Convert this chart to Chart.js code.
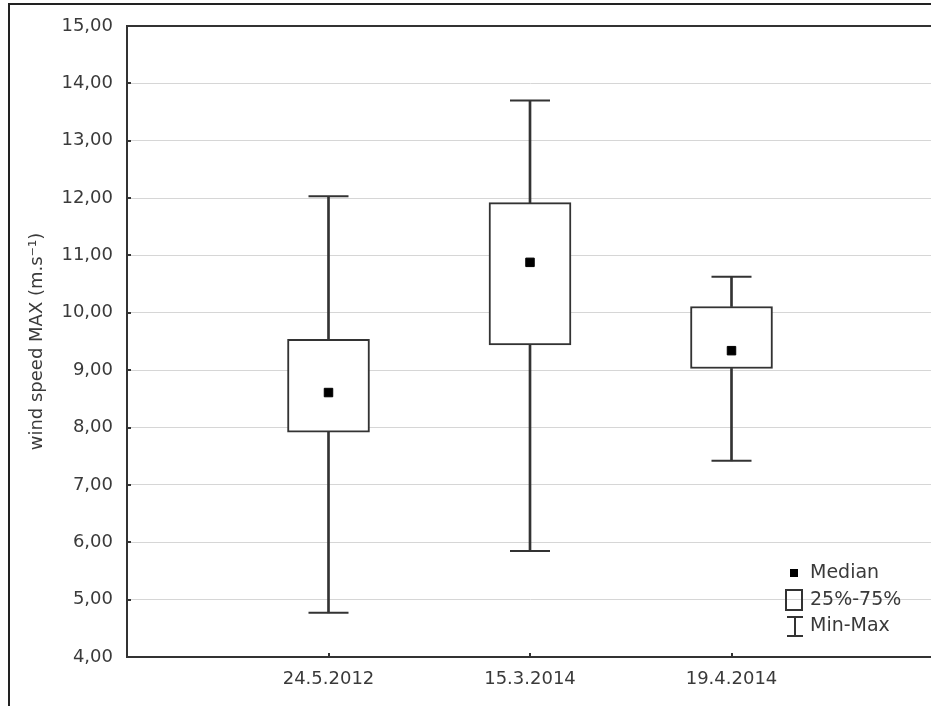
<!DOCTYPE html>
<html><head><meta charset="utf-8">
<script src="https://cdn.jsdelivr.net/npm/chart.js@4"></script>
<style>
html,body{margin:0;padding:0;overflow:hidden;background:#fff;width:931px;height:706px;}
#frame{position:absolute;left:8px;top:3px;width:940px;height:701px;border-left:2px solid #222;border-top:2px solid #222;border-bottom:1px solid #aaa;}
#wrap{position:absolute;left:0;top:0;width:940px;height:706px;}
</style></head><body>
<div id="frame"></div>
<div id="wrap"><canvas id="c" width="940" height="706"></canvas></div>
<script>
const categories = ['24.5.2012', '15.3.2014', '19.4.2014'];
const minValues = [4.77, 5.85, 7.42];
const q1Values = [7.92, 9.44, 9.03];
const medianValues = [8.61, 10.88, 9.34];
const q3Values = [9.54, 11.92, 10.11];
const maxValues = [12.03, 13.70, 10.63];
const yTickLabels = ['4,00','5,00','6,00','7,00','8,00','9,00','10,00','11,00','12,00','13,00','14,00','15,00'];
const legendLabels = ['Median', '25%-75%', 'Min-Max'];

const FONT = 'DejaVu Sans';
const INK = '#333';
const TXT = '#3a3a3a';

const boxData = categories.map((c, i) => ({x: c, y: [q1Values[i], q3Values[i]]}));
const lowWhisker = categories.map((c, i) => ({x: c, y: [minValues[i], q1Values[i]]}));
const highWhisker = categories.map((c, i) => ({x: c, y: [q3Values[i], maxValues[i]]}));
const capData = categories.flatMap((c, i) => [{x: c, y: minValues[i]}, {x: c, y: maxValues[i]}]);
const medianData = categories.map((c, i) => ({x: c, y: medianValues[i]}));

const extras = {
  id: 'extras',
  afterDatasetsDraw(chart) {
    const {ctx, chartArea: a, scales: {x, y}} = chart;
    ctx.save();
    ctx.strokeStyle = INK;
    ctx.lineWidth = 2;
    ctx.beginPath();
    ctx.moveTo(a.left - 1, a.top);
    ctx.lineTo(a.right, a.top);
    ctx.stroke();
    y.ticks.forEach(t => {
      const py = Math.round(y.getPixelForValue(t.value));
      ctx.beginPath();
      ctx.moveTo(a.left, py);
      ctx.lineTo(a.left + 4, py);
      ctx.stroke();
    });
    categories.forEach((c, i) => {
      const px = Math.round(x.getPixelForValue(i + 1));
      ctx.beginPath();
      ctx.moveTo(px, a.bottom);
      ctx.lineTo(px, a.bottom - 4);
      ctx.stroke();
    });
    // legend
    ctx.fillStyle = '#000';
    ctx.fillRect(790, 569, 8, 8);
    ctx.strokeStyle = INK;
    ctx.lineWidth = 2;
    ctx.strokeRect(786, 590, 16, 20);
    ctx.beginPath();
    ctx.moveTo(795, 617); ctx.lineTo(795, 636);
    ctx.moveTo(787, 617); ctx.lineTo(803, 617);
    ctx.moveTo(787, 636); ctx.lineTo(803, 636);
    ctx.stroke();
    ctx.fillStyle = TXT;
    ctx.font = '19px "' + FONT + '"';
    ctx.textBaseline = 'middle';
    ctx.textAlign = 'left';
    ctx.fillText(legendLabels[0], 810, 573);
    ctx.fillText(legendLabels[1], 810, 600);
    ctx.fillText(legendLabels[2], 810, 626);
    ctx.restore();
  }
};

new Chart(document.getElementById('c'), {
  type: 'bar',
  data: {
    labels: ['', ...categories, ''],
    datasets: [
      {type: 'line', data: medianData, showLine: false, pointStyle: 'rect', pointRadius: 6,
       pointBackgroundColor: '#000', pointBorderColor: '#000', pointBorderWidth: 1, order: 0},
      {type: 'line', data: capData, showLine: false, pointStyle: 'line', pointRadius: 20,
       pointBorderColor: INK, pointBorderWidth: 2, order: 1},
      {data: boxData, backgroundColor: '#fff', borderColor: INK, borderWidth: 2, borderSkipped: false,
       barThickness: 82, grouped: false, order: 2},
      {data: lowWhisker, backgroundColor: INK, borderWidth: 0, barThickness: 2, grouped: false, order: 3},
      {data: highWhisker, backgroundColor: INK, borderWidth: 0, barThickness: 2, grouped: false, order: 3}
    ]
  },
  options: {
    responsive: false,
    animation: false,
    events: [],
    layout: {autoPadding: false, padding: {left: 27, top: 26, right: 7, bottom: 0}},
    plugins: {legend: {display: false}, tooltip: {enabled: false}},
    scales: {
      x: {
        type: 'category',
        offset: false,
        grid: {display: false, offset: false},
        border: {display: true, color: INK, width: 2},
        ticks: {color: TXT, font: {family: FONT, size: 18}, padding: 4, maxRotation: 0, autoSkip: false},
        afterFit(s) { s.height = 49; }
      },
      y: {
        type: 'linear',
        min: 4, max: 15,
        grid: {color: '#d6d6d6', lineWidth: 1, drawTicks: false},
        border: {display: true, color: INK, width: 2},
        ticks: {stepSize: 1, color: TXT, font: {family: FONT, size: 18}, padding: 14,
                callback: (v, i) => yTickLabels[i]},
        title: {display: true, text: 'wind speed MAX (m.s⁻¹)', color: TXT,
                font: {family: FONT, size: 18}, padding: {top: 0, bottom: 0}},
        afterFit(s) { s.width = 100; }
      }
    }
  },
  plugins: [extras]
});
</script>
</body></html>
